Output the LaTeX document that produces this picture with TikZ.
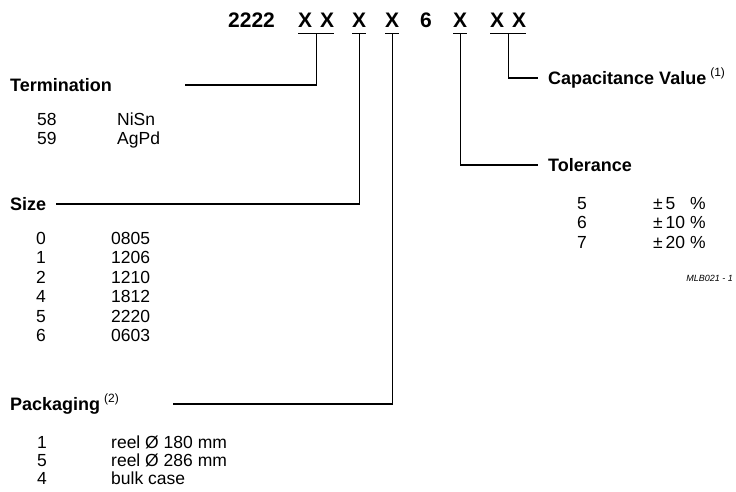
\documentclass[tikz,border=0pt]{standalone}
\usepackage{fontspec}
\setmainfont{Liberation Sans}
\usetikzlibrary{calc}

\begin{document}
\begin{tikzpicture}[
	x=1pt, y=-1pt,
	code/.style={
		font=\fontsize{21}{24}\selectfont\bfseries,
		inner sep=0pt,
		anchor=base west
	},
	head/.style={font=\fontsize{18}{21}\selectfont\bfseries, inner sep=0pt, anchor=base west},
	entry/.style={font=\fontsize{17.5}{20}\selectfont, inner sep=0pt, anchor=base west},
	refnote/.style={font=\fontsize{9}{10}\selectfont\itshape, inner sep=0pt, anchor=base east},
	codeline/.style={black, line width=1.1pt},
]

\useasboundingbox (0,0) rectangle (736,492);

\newcommand{\fnote}[1]{\hspace{4pt}\raisebox{8pt}{\fontsize{12}{14}\selectfont\mdseries(#1)}}

% type number
\node[code] (pre)   at (228,28) {2222};
\node[code] (xterm) at (298,28) {X\hspace{8pt}X};
\node[code] (xsize) at (352,28) {X};
\node[code] (xpack) at (385,28) {X};
\node[code] (six)   at (420,28) {6};
\node[code] (xtol)  at (453,28) {X};
\node[code] (xcap)  at (490,28) {X\hspace{8pt}X};

\foreach \n in {xterm,xsize,xpack,xtol,xcap} {
	\draw[codeline] ([yshift=-5pt]\n.south west) -- ([yshift=-5pt]\n.south east);
}

% headings
\node[head] (term) at (10,91.5)  {Termination};
\node[head] (size) at (10,210.5) {Size};
\node[head] (pack) at (10,410.5) {Packaging\fnote{2}};
\node[head] (tol)  at (548,171.5) {Tolerance};
\node[head] (cap)  at (548,84.5)  {Capacitance Value\fnote{1}};

% free ends of the leader lines
\coordinate (tl) at (185,85);
\coordinate (sl) at (56,204);
\coordinate (pl) at (173,404);
\coordinate (tr) at (538,165);
\coordinate (cr) at (538,78);

\draw[codeline] (tl) -| ([yshift=-5pt]xterm.south);
\draw[codeline] (sl) -| ([yshift=-5pt]xsize.south);
\draw[codeline] (pl) -| ([yshift=-5pt]xpack.south);
\draw[codeline] ([yshift=-5pt]xtol.south) |- (tr);
\draw[codeline] ([yshift=-5pt]xcap.south) |- (cr);

% termination
\foreach \c/\t [count=\i] in {58/NiSn, 59/AgPd} {
	\node[entry] (termc\i) at (37,{107+19*\i}) {\c};
	\node[entry] (termt\i) at (117,{107+19*\i}) {\t};
}

% size
\foreach \c/\t [count=\i] in {0/0805, 1/1206, 2/1210, 4/1812, 5/2220, 6/0603} {
	\node[entry] (sizec\i) at (36,{224.8+19.5*\i}) {\c};
	\node[entry] (sizet\i) at (111,{224.8+19.5*\i}) {\t};
}

% packaging
\foreach \c/\t [count=\i] in {1/reel Ø 180 mm, 5/reel Ø 286 mm, 4/bulk case} {
	\node[entry] (packc\i) at (37,{430+18*\i}) {\c};
	\node[entry] (packt\i) at (111,{430+18*\i}) {\t};
}

% tolerance
\foreach \c/\t [count=\i] in {5/{±\,5\hphantom{0} \%}, 6/{±\,10 \%}, 7/{±\,20 \%}} {
	\node[entry] (tolc\i) at (577,{189.8+19.5*\i}) {\c};
	\node[entry] (tolt\i) at (653,{189.8+19.5*\i}) {\t};
}

\node[refnote] (mlb) at (733,281) {MLB021 - 1};

\end{tikzpicture}
\end{document}
